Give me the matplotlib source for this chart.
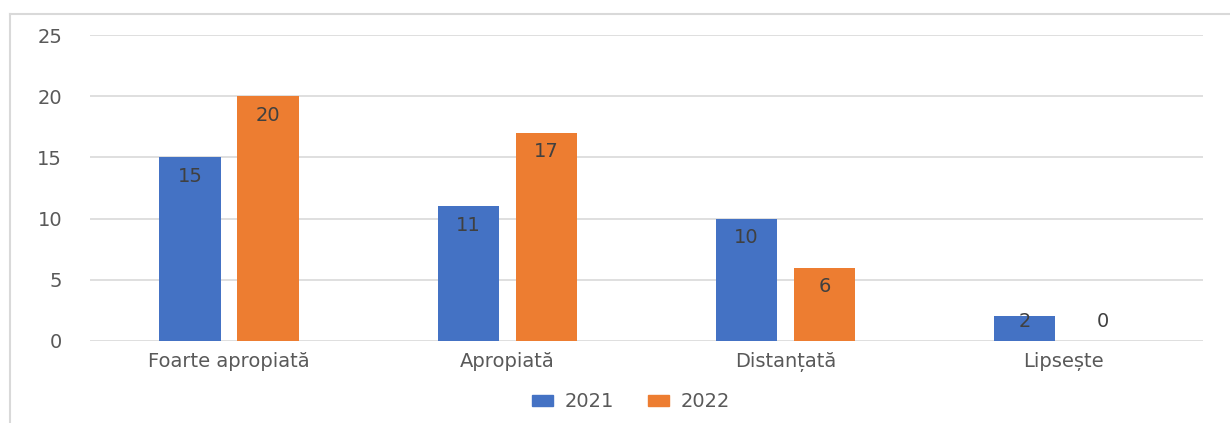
import matplotlib.pyplot as plt
import numpy as np
from matplotlib.lines import Line2D
from matplotlib.patches import Patch

categories = ['Foarte apropiată', 'Apropiată', 'Distanțată', 'Lipsește']
years = ['2021', '2022']
values_2021 = [15, 11, 10, 2]
values_2022 = [20, 17, 6, 0]
y_ticks = [0, 5, 10, 15, 20, 25]

blue = '#4472C4'
orange = '#ED7D31'
text_gray = '#595959'

plt.rcParams['font.family'] = ['DejaVu Sans']

fig = plt.figure(figsize=(12.3, 4.23), dpi=100)
ax = fig.add_axes([0.073, 0.194, 0.905, 0.723])

x = np.arange(len(categories))
w = 0.22
off = 0.14
b1 = ax.bar(x - off, values_2021, w, color=blue, zorder=3)
b2 = ax.bar(x + off, values_2022, w, color=orange, zorder=3)

# data labels inside the bar end (Excel style)
for bars in (b1, b2):
    for rect in bars:
        h = rect.get_height()
        ax.text(rect.get_x() + rect.get_width() / 2, max(h - 1.55, 1.55),
                f'{int(h)}', ha='center', va='center', fontsize=14,
                color='#404040', zorder=4)

ax.set_xlim(-0.5, 3.5)
ax.set_ylim(0, 25)
ax.set_yticks(y_ticks)
ax.set_xticks(x)
ax.set_xticklabels(categories)
ax.tick_params(axis='both', length=0, labelsize=14, colors=text_gray)
ax.tick_params(axis='y', pad=20)
ax.tick_params(axis='x', pad=8)
ax.yaxis.grid(True, color='#d9d9d9', linewidth=1.2, zorder=0)
for s in ax.spines.values():
    s.set_visible(False)

handles = [Patch(color=blue), Patch(color=orange)]
fig.legend(handles, years, loc='center', bbox_to_anchor=(0.513, 0.05), ncol=2,
           frameon=False, fontsize=14, labelcolor=text_gray, handletextpad=0.6,
           handlelength=1.1, handleheight=0.55, columnspacing=1.7)

# chart border (top and left visible)
fig.add_artist(Line2D([0.008, 1.0], [0.967, 0.967], color='#d9d9d9', linewidth=1.5))
fig.add_artist(Line2D([0.008, 0.008], [0.0, 0.967], color='#d9d9d9', linewidth=1.5))

fig.savefig('out.png', dpi=100)
